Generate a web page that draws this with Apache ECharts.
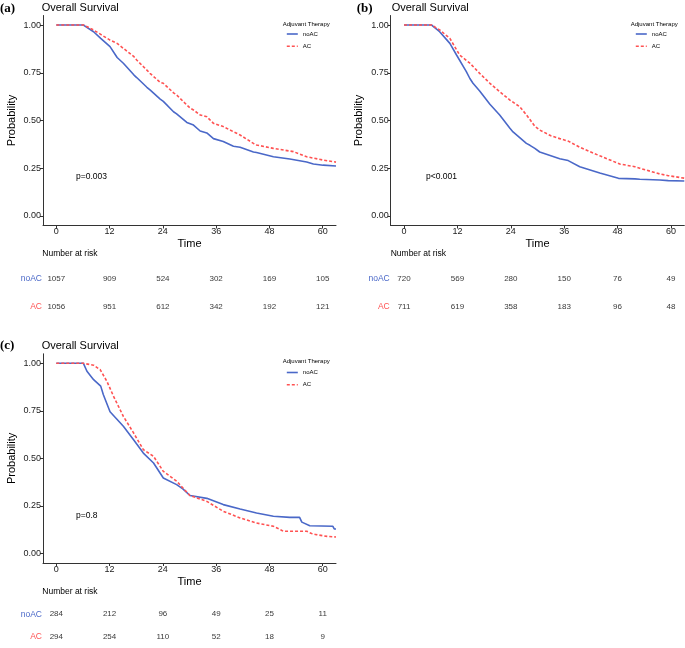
<!DOCTYPE html>
<html>
<head>
<meta charset="utf-8">
<script src="https://cdn.jsdelivr.net/npm/echarts@6/dist/echarts.min.js"></script>
<style>
html,body{margin:0;padding:0;background:#fff;}
#chart{width:685px;height:648px;}
</style>
</head>
<body>
<div id="chart"></div>
<script>
// ---------- data ----------
const timeTicks = [0, 12, 24, 36, 48, 60];
const probTicks = [0, 0.25, 0.5, 0.75, 1];
const groups = ['noAC', 'AC'];

// Panel (a)
const a_noAC_time = [0, 6.1, 8.4, 10, 12.1, 13.7, 15.1, 17.5, 18.1, 20.4, 21.1, 23.4, 24.1, 26.4, 27.1, 29.4, 30.9, 32.4, 33.9, 35.4, 37.6, 39.9, 41.4, 44.4, 45.1, 48.9, 52.6, 56.4, 57.9, 60.1, 63];
const a_noAC_surv = [1, 1, 0.965, 0.93, 0.887, 0.83, 0.8, 0.738, 0.725, 0.674, 0.66, 0.612, 0.6, 0.546, 0.535, 0.49, 0.476, 0.445, 0.435, 0.405, 0.39, 0.365, 0.36, 0.335, 0.332, 0.31, 0.298, 0.283, 0.272, 0.266, 0.262];
const a_AC_time = [0, 6.2, 8.4, 10, 12.1, 13.7, 15.1, 17.5, 18.1, 20.4, 21.1, 23.4, 24.1, 26.4, 27.1, 29.4, 30.2, 30.9, 32.4, 33.9, 35.4, 37.6, 39.9, 41.4, 44.4, 45.1, 48.9, 52.6, 53.4, 56.4, 57.9, 60.1, 63];
const a_AC_surv = [1, 1, 0.974, 0.951, 0.921, 0.904, 0.878, 0.834, 0.817, 0.764, 0.747, 0.7, 0.695, 0.645, 0.634, 0.581, 0.564, 0.555, 0.529, 0.52, 0.485, 0.468, 0.441, 0.424, 0.38, 0.372, 0.354, 0.34, 0.337, 0.31, 0.303, 0.293, 0.282];
const a_risk_noAC = [1057, 909, 524, 302, 169, 105];
const a_risk_AC = [1056, 951, 612, 342, 192, 121];

// Panel (b)
const b_noAC_time = [0, 6.2, 8, 10.3, 11.8, 14, 14.8, 15.5, 17, 19.3, 21.5, 23.8, 24.5, 27.5, 28.3, 29.4, 30.5, 35, 36.9, 39.5, 44, 48.2, 51.9, 53, 57.5, 59.4, 63];
const b_noAC_surv = [1, 1, 0.965, 0.904, 0.843, 0.756, 0.72, 0.695, 0.655, 0.585, 0.529, 0.46, 0.44, 0.38, 0.37, 0.354, 0.335, 0.3, 0.29, 0.258, 0.225, 0.197, 0.194, 0.192, 0.188, 0.185, 0.183];
const b_AC_time = [0, 6.2, 8, 10.3, 12.5, 14.8, 17, 19.3, 21.5, 23.8, 26, 27.5, 28.3, 29.4, 30.5, 33, 35, 36.9, 39.5, 44, 48.5, 51.9, 53, 57.5, 59.4, 63];
const b_AC_surv = [1, 1, 0.975, 0.93, 0.843, 0.8, 0.747, 0.695, 0.651, 0.607, 0.572, 0.53, 0.505, 0.47, 0.45, 0.42, 0.405, 0.392, 0.36, 0.315, 0.272, 0.258, 0.25, 0.22, 0.211, 0.198];
const b_risk_noAC = [720, 569, 280, 150, 76, 49];
const b_risk_AC = [711, 619, 358, 183, 96, 48];

// Panel (c)
const c_noAC_time = [0, 6.1, 6.9, 8.4, 10, 10.6, 12.1, 13.5, 15.1, 17.4, 19.6, 21.9, 24.1, 27.1, 28.5, 30.1, 33.9, 37.6, 41.4, 45.1, 48.9, 52.6, 54.8, 55.3, 57.1, 62.3, 62.6, 63];
const c_noAC_surv = [1, 1, 0.958, 0.914, 0.88, 0.835, 0.745, 0.71, 0.669, 0.598, 0.528, 0.476, 0.397, 0.362, 0.34, 0.305, 0.29, 0.257, 0.234, 0.213, 0.196, 0.19, 0.19, 0.165, 0.146, 0.143, 0.129, 0.129];
const c_AC_time = [0, 6.1, 8.4, 9.9, 11.4, 12.9, 15.1, 17.4, 19.6, 21.9, 24.1, 27.1, 30.1, 33.9, 37.6, 41.4, 45.1, 48.9, 50.5, 51.1, 56.4, 57.5, 58.6, 61, 63];
const c_AC_surv = [1, 1, 0.99, 0.966, 0.905, 0.826, 0.721, 0.634, 0.546, 0.511, 0.432, 0.38, 0.305, 0.274, 0.222, 0.187, 0.16, 0.143, 0.125, 0.117, 0.117, 0.105, 0.099, 0.09, 0.087];
const c_risk_noAC = [284, 212, 96, 49, 25, 11];
const c_risk_AC = [294, 254, 110, 52, 18, 9];

const pValues = ['p=0.003', 'p<0.001', 'p=0.8'];
const panelLabels = ['(a)', '(b)', '(c)'];

// ---------- styling / layout ----------
const BLUE = '#4a68c8';
const RED = '#ff5252';
const FONT = '"Liberation Sans", Arial, Helvetica, sans-serif';
const AXIS = '#333';

const plotGrids = [
  {left: 43, top: 15.5, width: 293, height: 210},
  {left: 390.7, top: 15.5, width: 293.6, height: 210},
  {left: 43, top: 353.8, width: 293, height: 209.2}
];
const riskGrids = [
  {left: 43, top: 265, width: 293, height: 56},
  {left: 390.7, top: 265, width: 293.6, height: 56},
  {left: 43, top: 602.9, width: 293, height: 55.2}
];

const zip = (t, s) => t.map((v, i) => [v, s[i]]);

const panels = [
  {noT: a_noAC_time, noS: a_noAC_surv, acT: a_AC_time, acS: a_AC_surv, rNo: a_risk_noAC, rAc: a_risk_AC},
  {noT: b_noAC_time, noS: b_noAC_surv, acT: b_AC_time, acS: b_AC_surv, rNo: b_risk_noAC, rAc: b_risk_AC},
  {noT: c_noAC_time, noS: c_noAC_surv, acT: c_AC_time, acS: c_AC_surv, rNo: c_risk_noAC, rAc: c_risk_AC}
];

const grid = [], xAxis = [], yAxis = [], series = [], legend = [], graphic = [];

plotGrids.forEach((g, i) => {
  grid.push(Object.assign({}, g));
  xAxis.push({
    gridIndex: i, type: 'value', min: -3, max: 63,
    axisLine: {onZero: false, lineStyle: {color: AXIS, width: 1}},
    axisTick: {show: true, customValues: timeTicks, length: 3, lineStyle: {color: AXIS}},
    axisLabel: {customValues: timeTicks, color: '#222', fontSize: 9, margin: 2, fontFamily: FONT},
    splitLine: {show: false},
    name: 'Time', nameLocation: 'middle', nameGap: 13,
    nameTextStyle: {fontSize: 11, color: '#000', fontFamily: FONT}
  });
  yAxis.push({
    gridIndex: i, type: 'value', min: -0.05, max: 1.05,
    axisLine: {show: true, onZero: false, lineStyle: {color: AXIS, width: 1}},
    axisTick: {show: true, customValues: probTicks, length: 3, lineStyle: {color: AXIS}},
    axisLabel: {customValues: probTicks, color: '#222', fontSize: 9, margin: 2, fontFamily: FONT,
      formatter: v => v.toFixed(2)},
    splitLine: {show: false},
    name: 'Probability', nameLocation: 'middle', nameGap: 26,
    nameTextStyle: {fontSize: 11, color: '#000', fontFamily: FONT}
  });
});

riskGrids.forEach((g, i) => {
  grid.push(Object.assign({}, g));
  xAxis.push({gridIndex: 3 + i, type: 'value', min: -3, max: 63, show: false});
  yAxis.push({
    gridIndex: 3 + i, type: 'category', data: ['AC', 'noAC'],
    axisLine: {show: false}, axisTick: {show: false}, splitLine: {show: false},
    axisLabel: {margin: 1, fontFamily: FONT, fontSize: 8.5,
      formatter: v => v === 'noAC' ? '{b|noAC}' : '{r|AC}',
      rich: {b: {color: BLUE, fontSize: 8.5, fontFamily: FONT}, r: {color: RED, fontSize: 8.5, fontFamily: FONT}}}
  });
});

panels.forEach((p, i) => {
  series.push({
    name: 'noAC', type: 'line', xAxisIndex: i, yAxisIndex: i,
    data: zip(p.noT, p.noS), symbol: 'none', showSymbol: false,
    lineStyle: {color: BLUE, width: 1.6}, itemStyle: {color: BLUE}, z: 3, animation: false
  });
  series.push({
    name: 'AC', type: 'line', xAxisIndex: i, yAxisIndex: i,
    data: zip(p.acT, p.acS), symbol: 'none', showSymbol: false,
    lineStyle: {color: RED, width: 1.6, type: [3, 2]}, itemStyle: {color: RED}, z: 4, animation: false
  });
  const riskData = [];
  timeTicks.forEach((t, k) => {
    riskData.push([t, 'noAC', p.rNo[k]]);
    riskData.push([t, 'AC', p.rAc[k]]);
  });
  series.push({
    type: 'scatter', xAxisIndex: 3 + i, yAxisIndex: 3 + i,
    data: riskData, symbolSize: 0, silent: true, animation: false,
    label: {show: true, position: 'inside', formatter: q => String(q.value[2]),
      color: '#000', fontSize: 8, fontFamily: FONT}
  });
});

// legends
const legendPos = [
  {left: 286, top: 30.5, title: [282.7, 24]},
  {left: 635, top: 30.5, title: [630.7, 24]},
  {left: 286, top: 369, title: [282.7, 361.7]}
];
legendPos.forEach(lp => {
  legend.push({
    orient: 'vertical', left: lp.left, top: lp.top, padding: 0,
    itemWidth: 11, itemHeight: 6, itemGap: 5.3,
    data: groups, selectedMode: false,
    itemStyle: {opacity: 0, borderWidth: 0},
    lineStyle: {width: 1.6},
    textStyle: {fontSize: 6, lineHeight: 7, color: '#000', fontFamily: FONT}
  });
  graphic.push({type: 'text', x: lp.title[0], y: lp.title[1],
    style: {text: 'Adjuvant Therapy', fill: '#000', font: '6px ' + FONT, verticalAlign: 'middle'}});
});

// titles, labels, annotations
const titlePos = [[0, 41.7, 8.3], [356.7, 391.7, 8.3], [0, 41.7, 345.7]];
titlePos.forEach((tp, i) => {
  graphic.push({type: 'text', x: tp[0], y: tp[2],
    style: {text: panelLabels[i], fill: '#000', font: 'bold 13px "Liberation Serif", "Times New Roman", serif', verticalAlign: 'middle'}});
  graphic.push({type: 'text', x: tp[1], y: tp[2],
    style: {text: 'Overall Survival', fill: '#000', font: '11px ' + FONT, verticalAlign: 'middle'}});
});
const narPos = [[42.3, 254], [390.7, 254], [42.3, 591.7]];
narPos.forEach(np => {
  graphic.push({type: 'text', x: np[0], y: np[1],
    style: {text: 'Number at risk', fill: '#000', font: '8.5px ' + FONT, verticalAlign: 'middle'}});
});
const pPos = [[76, 176.7], [426, 176.7], [76, 515.7]];
pPos.forEach((pp, i) => {
  graphic.push({type: 'text', x: pp[0], y: pp[1],
    style: {text: pValues[i], fill: '#000', font: '8.5px ' + FONT, verticalAlign: 'middle'}});
});

const chart = echarts.init(document.getElementById('chart'), null, {renderer: 'canvas'});
chart.setOption({
  animation: false,
  backgroundColor: '#fff',
  grid, xAxis, yAxis, series, legend, graphic
});
</script>
</body>
</html>
